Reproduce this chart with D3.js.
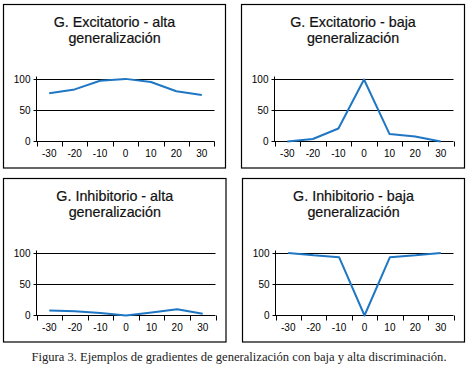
<!DOCTYPE html>
<html>
<head>
<meta charset="utf-8">
<script src="https://cdn.jsdelivr.net/npm/d3@7"></script>
<style>
  html, body { margin: 0; padding: 0; background: #fff; }
  svg { display: block; }
</style>
</head>
<body>
<svg id="chart" width="471" height="373"></svg>
<script>
// ---- data ----
const categories = ["-30", "-20", "-10", "0", "10", "20", "30"];
const yTicks = [0, 50, 100];
const titles = [
  ["G. Excitatorio - alta", "generalización"],
  ["G. Excitatorio - baja", "generalización"],
  ["G. Inhibitorio - alta", "generalización"],
  ["G. Inhibitorio - baja", "generalización"]
];
const excitAlta = [78, 84, 98, 101, 96, 81, 75];
const excitBaja = [0, 4, 21, 100, 12, 8, 0];
const inhibAlta = [8, 7, 4, 0, 5, 10, 3];
const inhibBaja = [101, 97, 94, 0, 94, 97, 101];
const caption = "Figura 3. Ejemplos de gradientes de generalización con baja y alta discriminación.";

const seriesList = [excitAlta, excitBaja, inhibAlta, inhibBaja];

// ---- layout ----
const boxes = [
  {x: 3.5, y: 4.5, w: 222, h: 163.5},
  {x: 241.5, y: 4.5, w: 223, h: 163.5},
  {x: 3.5, y: 178.5, w: 222.5, h: 163.5},
  {x: 242.5, y: 178.5, w: 222, h: 163.5}
];
const lineColor = "#1f77c4";
const svg = d3.select("#chart");

boxes.forEach((b, i) => {
  const g = svg.append("g");
  g.append("rect")
    .attr("x", b.x).attr("y", b.y).attr("width", b.w).attr("height", b.h)
    .attr("fill", "none").attr("stroke", "#000").attr("stroke-width", 1.2);

  const left = Math.round(b.x + 32.5) + 0.5;
  const right = Math.round(b.x + b.w - 11.5) + 0.5;
  const y100 = Math.round(b.y + 74) + 0.5;
  const y0 = Math.round(b.y + 136) + 0.5;

  const x = d3.scaleBand().domain(categories).range([left, right]);
  const y = d3.scaleLinear().domain([0, 100]).range([y0, y100]);

  // title
  const cx = b.x + b.w / 2;
  titles[i].forEach((t, k) => {
    g.append("text")
      .attr("x", cx).attr("y", b.y + 22 + k * 16)
      .attr("text-anchor", "middle")
      .attr("font-family", "Liberation Sans, Arial, sans-serif")
      .attr("font-size", 14.3)
      .attr("fill", "#111")
      .attr("stroke", "#111").attr("stroke-width", 0.2)
      .text(t);
  });

  // gridlines (incl. zero line) with small outward ticks
  yTicks.forEach(v => {
    g.append("line")
      .attr("x1", left - 3).attr("x2", right)
      .attr("y1", y(v)).attr("y2", y(v))
      .attr("stroke", "#000").attr("stroke-width", 1);
    g.append("text")
      .attr("x", left - 6).attr("y", y(v))
      .attr("dy", "0.35em")
      .attr("text-anchor", "end")
      .attr("font-family", "Liberation Sans, Arial, sans-serif")
      .attr("font-size", 10)
      .attr("fill", "#000")
      .text(v);
  });

  // y axis line
  g.append("line")
    .attr("x1", left).attr("x2", left)
    .attr("y1", y(100) - 3).attr("y2", y(0))
    .attr("stroke", "#000").attr("stroke-width", 1);

  // x ticks at band edges
  const edges = categories.map(c => x(c)).concat([x(categories[categories.length - 1]) + x.bandwidth()]);
  edges.forEach(e => {
    g.append("line")
      .attr("x1", Math.round(e) + 0.5).attr("x2", Math.round(e) + 0.5)
      .attr("y1", y(0)).attr("y2", y(0) + 5)
      .attr("stroke", "#000").attr("stroke-width", 1);
  });

  // x labels
  categories.forEach(c => {
    g.append("text")
      .attr("x", x(c) + x.bandwidth() / 2).attr("y", y(0) + 15)
      .attr("text-anchor", "middle")
      .attr("font-family", "Liberation Sans, Arial, sans-serif")
      .attr("font-size", 10)
      .attr("fill", "#000")
      .text(c);
  });

  // series line
  const line = d3.line()
    .x((d, j) => x(categories[j]) + x.bandwidth() / 2)
    .y(d => y(d));
  g.append("path")
    .datum(seriesList[i])
    .attr("d", line)
    .attr("fill", "none")
    .attr("stroke", lineColor)
    .attr("stroke-width", 2)
    .attr("stroke-linejoin", "round");
});

svg.append("text")
  .attr("x", 239).attr("y", 361)
  .attr("text-anchor", "middle")
  .attr("font-family", "Liberation Serif, Times New Roman, serif")
  .attr("font-size", 12.6)
  .attr("fill", "#222")
  .text(caption);
</script>
</body>
</html>
